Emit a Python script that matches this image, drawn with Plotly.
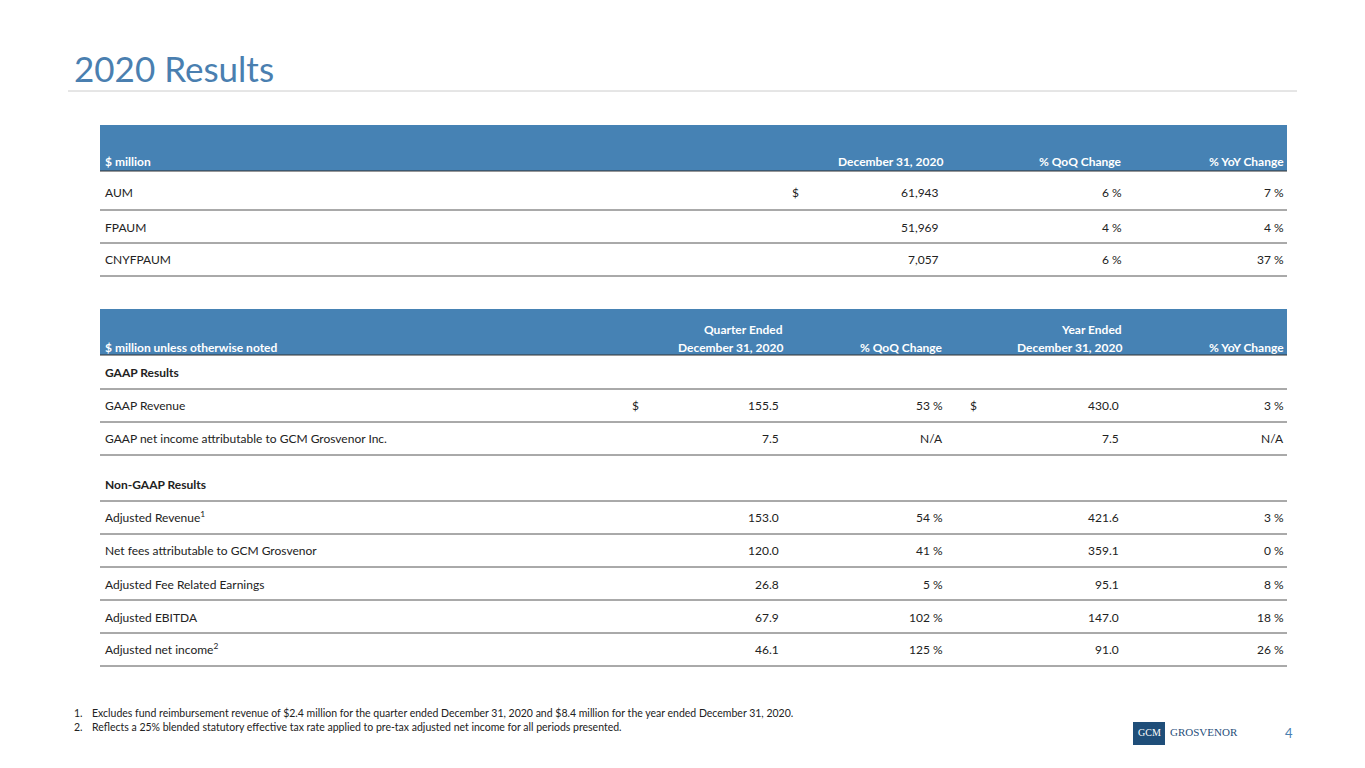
import plotly.graph_objects as go

# table 1 data
aum_labels = ["AUM", "FPAUM", "CNYFPAUM"]
aum_values = ["61,943", "51,969", "7,057"]
aum_qoq = ["6 %", "4 %", "6 %"]
aum_yoy = ["7 %", "4 %", "37 %"]

# table 2 data
res_labels = ["GAAP Results", "GAAP Revenue", "GAAP net income attributable to GCM Grosvenor Inc.",
              "Non-GAAP Results", "Adjusted Revenue<sup>1</sup>", "Net fees attributable to GCM Grosvenor",
              "Adjusted Fee Related Earnings", "Adjusted EBITDA", "Adjusted net income<sup>2</sup>"]
res_quarter = ["", "155.5", "7.5", "", "153.0", "120.0", "26.8", "67.9", "46.1"]
res_qoq = ["", "53 %", "N/A", "", "54 %", "41 %", "5 %", "102 %", "125 %"]
res_year = ["", "430.0", "7.5", "", "421.6", "359.1", "95.1", "147.0", "91.0"]
res_yoy = ["", "3 %", "N/A", "", "3 %", "0 %", "8 %", "18 %", "26 %"]
res_text_y = [372, 405, 438, 484, 517, 550, 584, 617, 649]
res_line_y = [389, 422, 455, 501, 534, 567, 600, 633, 666]

footnotes = ["Excludes fund reimbursement revenue of $2.4 million for the quarter ended December 31, 2020 and $8.4 million for the year ended December 31, 2020.",
             "Reflects a 25% blended statutory effective tax rate applied to pre-tax adjusted net income for all periods presented."]

BLUE = "#4682B4"
TXT = "#222222"
FONT = "Lato"

fig = go.Figure()
ann = []
shapes = []


def t(x, y, s, anchor="left", size=12, bold=False, color=TXT):
    if bold:
        s = "<b>" + s + "</b>"
    ann.append(dict(x=x, y=y, xref="x", yref="y", text=s, showarrow=False, xanchor=anchor,
                    yanchor="middle", font=dict(family=FONT, size=size, color=color)))


def hline(y, x0=100, x1=1287, color="#555555", w=1):
    shapes.append(dict(type="line", xref="x", yref="y", x0=x0, x1=x1, y0=y, y1=y,
                       line=dict(color=color, width=w)))


# title
t(72, 68, "2020 Results", size=35, color="#4A7FB0")
hline(91, 68, 1297, "#CCCCCC")

# table 1 header
shapes.append(dict(type="rect", xref="x", yref="y", x0=100, x1=1287, y0=125, y1=171,
                   fillcolor=BLUE, line=dict(width=0), layer="below"))
t(103, 161, "$ million", bold=True, color="white")
t(945, 161, "December 31, 2020", "right", bold=True, color="white")
t(1124, 161, "% QoQ Change", "right", bold=True, color="white")
t(1286, 161, "% YoY Change", "right", bold=True, color="white")
hline(171, color="#333333")
for i, lab in enumerate(aum_labels):
    y = [192, 227, 259][i]
    t(103, y, lab)
    if i == 0:
        t(790, y, "$")
    t(941, y, aum_values[i], "right")
    t(1124, y, aum_qoq[i], "right")
    t(1286, y, aum_yoy[i], "right")
    hline([210, 243, 276][i])

# table 2 header
shapes.append(dict(type="rect", xref="x", yref="y", x0=100, x1=1287, y0=309, y1=355,
                   fillcolor=BLUE, line=dict(width=0), layer="below"))
t(103, 347, "$ million unless otherwise noted", bold=True, color="white")
t(785, 329, "Quarter Ended", "right", bold=True, color="white")
t(785, 347, "December 31, 2020", "right", bold=True, color="white")
t(945, 347, "% QoQ Change", "right", bold=True, color="white")
t(1124, 329, "Year Ended", "right", bold=True, color="white")
t(1124, 347, "December 31, 2020", "right", bold=True, color="white")
t(1286, 347, "% YoY Change", "right", bold=True, color="white")
hline(355, color="#333333")
for i, lab in enumerate(res_labels):
    y = res_text_y[i]
    t(103, y, lab, bold=(res_quarter[i] == ""))
    if i == 1:
        t(630, y, "$")
        t(968, y, "$")
    t(781, y, res_quarter[i], "right")
    t(945, y, res_qoq[i], "right")
    t(1121, y, res_year[i], "right")
    t(1286, y, res_yoy[i], "right")
    hline(res_line_y[i])

# footnotes
for i, f in enumerate(footnotes):
    y = 713 + 14 * i
    t(72, y, f"{i + 1}.", size=10.5)
    t(90, y, f, size=10.5)

# page number and logo
t(1283, 733, "4", size=13, color="#4A7FB0")
shapes.append(dict(type="rect", xref="x", yref="y", x0=1133, x1=1165, y0=722, y1=745,
                   fillcolor="#1F4E79", line=dict(width=0)))
ann.append(dict(x=1149, y=732, xref="x", yref="y", text="GCM", showarrow=False,
                font=dict(family="Liberation Serif", size=10, color="white")))
ann.append(dict(x=1168, y=732, xref="x", yref="y", text="GROSVENOR", showarrow=False, xanchor="left",
                font=dict(family="Liberation Serif", size=11, color="#1F4E79")))

# ranges shifted by 8 px to offset the page's default body margin
fig.update_layout(
    width=1365, height=768, margin=dict(l=0, r=0, t=0, b=0),
    paper_bgcolor="white", plot_bgcolor="white",
    xaxis=dict(range=[8, 1373], visible=False, fixedrange=True),
    yaxis=dict(range=[776, 8], visible=False, fixedrange=True),
    annotations=ann, shapes=shapes, showlegend=False,
)
fig.write_html("out.html")
